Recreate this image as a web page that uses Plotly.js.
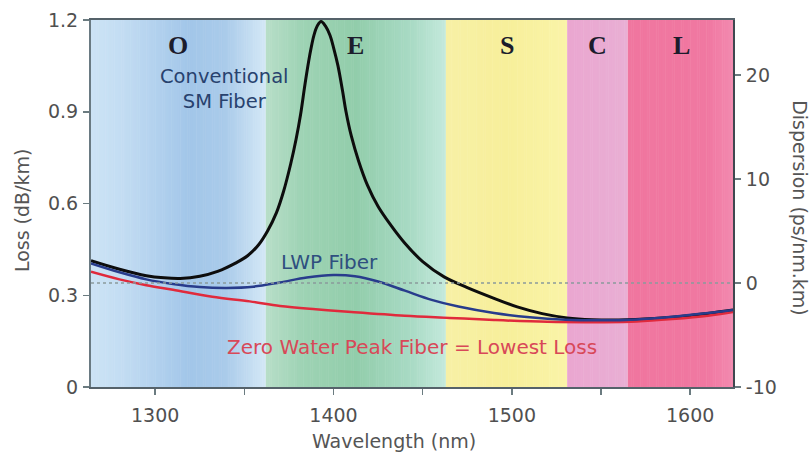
<!DOCTYPE html>
<html>
<head>
<meta charset="utf-8">
<script src="https://cdn.plot.ly/plotly-3.0.1.min.js"></script>
<style>html,body{margin:0;padding:0;background:#fff;}#chart{width:811px;height:459px;}</style>
</head>
<body>
<div id="chart"></div>
<script>
// ---- Bands ----
const bandNames = ['O', 'E', 'S', 'C', 'L'];
const bandStart = [1260, 1362, 1463, 1531, 1565];
const bandEnd   = [1362, 1463, 1531, 1565, 1625];

// Gradient colour stops per band: positions as fraction of the band, colours
const bandStopPos = [
  [0, 0.22, 0.58, 0.78, 1],
  [0, 0.2, 0.5, 0.8, 1],
  [0, 0.5, 1],
  [0, 1],
  [0, 0.75, 1]
];
const bandStopCol = [
  ['#cfe5f6', '#c2dcf2', '#a2c6e9', '#aacbea', '#d4e8f6'],
  ['#b8dec8', '#9ed3b4', '#92cdab', '#a8dac4', '#c4e9dc'],
  ['#f7f0a6', '#f7ef9a', '#faf4a8'],
  ['#eaa6d0', '#e9afd4'],
  ['#f0769f', '#f078a1', '#f38bb0']
];

// ---- Loss curves (dB/km) ----
const wlConv = [1264, 1280, 1295, 1305, 1314, 1325, 1335, 1345, 1352, 1358, 1363, 1368, 1372, 1376, 1379, 1381.5, 1384, 1386.5, 1389, 1391, 1393, 1395.5, 1398, 1400, 1402.5, 1405, 1407, 1410, 1414, 1419, 1425, 1432, 1440, 1450, 1462, 1475, 1490, 1503, 1517, 1531, 1545, 1560, 1580, 1600, 1624];
const lossConv = [0.413, 0.385, 0.364, 0.357, 0.355, 0.362, 0.378, 0.405, 0.43, 0.465, 0.51, 0.57, 0.64, 0.73, 0.81, 0.89, 0.99, 1.08, 1.15, 1.182, 1.195, 1.18, 1.15, 1.11, 1.05, 0.97, 0.90, 0.82, 0.74, 0.66, 0.59, 0.53, 0.47, 0.41, 0.36, 0.325, 0.29, 0.262, 0.24, 0.226, 0.22, 0.219, 0.224, 0.234, 0.252];

const wlLWP = [1264, 1280, 1295, 1310, 1325, 1340, 1355, 1370, 1385, 1400, 1412, 1425, 1440, 1455, 1470, 1490, 1510, 1530, 1550, 1570, 1590, 1610, 1624];
const lossLWP = [0.404, 0.375, 0.352, 0.337, 0.327, 0.324, 0.328, 0.342, 0.358, 0.366, 0.362, 0.345, 0.315, 0.285, 0.263, 0.242, 0.228, 0.220, 0.218, 0.221, 0.230, 0.242, 0.252];

const wlZWP = [1264, 1280, 1295, 1310, 1332, 1353, 1370, 1390, 1410, 1440, 1465, 1490, 1520, 1550, 1570, 1590, 1610, 1624];
const lossZWP = [0.377, 0.352, 0.333, 0.318, 0.295, 0.28, 0.265, 0.254, 0.245, 0.233, 0.226, 0.219, 0.213, 0.212, 0.214, 0.222, 0.233, 0.245];

// Zero-dispersion reference (ps/nm.km)
const zeroDispWl = [1264, 1624];
const zeroDisp = [0, 0];

// ---- Axis ticks ----
const xTickVals = [1300, 1350, 1400, 1450, 1500, 1550, 1600];
const xTickText = ['1300', '', '1400', '', '1500', '', '1600'];
const lossTicks = [0, 0.3, 0.6, 0.9, 1.2];
const lossTickText = ['0', '0.3', '0.6', '0.9', '1.2'];
const dispTicks = [-10, 0, 10, 20];
const dispTickText = ['-10', '0', '10', '20'];

// ---- Helpers ----
function hexToRgb(h) {
  const n = parseInt(h.slice(1), 16);
  return [(n >> 16) & 255, (n >> 8) & 255, n & 255];
}
function interpColor(pos, cols, f) {
  for (let i = 0; i < pos.length - 1; i++) {
    if (f >= pos[i] && f <= pos[i + 1]) {
      const t = (f - pos[i]) / (pos[i + 1] - pos[i] || 1);
      const a = hexToRgb(cols[i]), b = hexToRgb(cols[i + 1]);
      const c = a.map((v, k) => Math.round(v + (b[k] - v) * t));
      return 'rgb(' + c.join(',') + ')';
    }
  }
  return cols[cols.length - 1];
}

const shapes = [];
const step = 1;
for (let b = 0; b < bandNames.length; b++) {
  const s = bandStart[b], e = bandEnd[b];
  for (let x = s; x < e; x += step) {
    const f = (x + step / 2 - s) / (e - s);
    shapes.push({
      type: 'rect', xref: 'x', yref: 'paper',
      x0: x, x1: Math.min(x + step + 0.3, e), y0: 0, y1: 1,
      fillcolor: interpColor(bandStopPos[b], bandStopCol[b], f),
      line: {width: 0}, layer: 'below'
    });
  }
}

const serifFont = {family: 'Liberation Serif, Times New Roman, serif', size: 26, color: '#1c1c2c'};
const annotations = bandNames.map((n, i) => ({
  x: (Math.max(bandStart[i], 1264) + bandEnd[i]) / 2, y: 1.118, xref: 'x', yref: 'y',
  text: '<b>' + n + '</b>', showarrow: false, font: serifFont,
  xanchor: 'center', yanchor: 'middle'
}));

const sansFam = 'DejaVu Sans, Arial, sans-serif';
annotations.push(
  {x: 1339, y: 0.975, xref: 'x', yref: 'y', text: 'Conventional<br>SM Fiber', showarrow: false,
   font: {family: sansFam, size: 19.5, color: '#28426e'}, align: 'center', xanchor: 'center', yanchor: 'middle'},
  {x: 1398, y: 0.409, xref: 'x', yref: 'y', text: 'LWP Fiber', showarrow: false,
   font: {family: sansFam, size: 20, color: '#2f4f7f'}, xanchor: 'center', yanchor: 'middle'},
  {x: 1444, y: 0.131, xref: 'x', yref: 'y', text: 'Zero Water Peak Fiber = Lowest Loss', showarrow: false,
   font: {family: sansFam, size: 20, color: '#d84858'}, xanchor: 'center', yanchor: 'middle'},
  {x: 0.472, y: -0.147, xref: 'paper', yref: 'paper', text: 'Wavelength (nm)', showarrow: false,
   font: {family: sansFam, size: 19, color: '#555'}, xanchor: 'center', yanchor: 'middle'},
  {x: -0.1075, y: 0.482, xref: 'paper', yref: 'paper', text: 'Loss (dB/km)', showarrow: false, textangle: -90,
   font: {family: sansFam, size: 19, color: '#555'}, xanchor: 'center', yanchor: 'middle'},
  {x: 1.104, y: 0.488, xref: 'paper', yref: 'paper', text: 'Dispersion (ps/nm.km)', showarrow: false, textangle: 90,
   font: {family: sansFam, size: 19, color: '#555'}, xanchor: 'center', yanchor: 'middle'}
);

const traces = [
  {x: zeroDispWl, y: zeroDisp, yaxis: 'y2', mode: 'lines', line: {color: '#8a9a9c', width: 1.5, dash: 'dot'}, hoverinfo: 'skip'},
  {x: wlConv, y: lossConv, mode: 'lines', line: {color: '#0d0d0d', width: 3, shape: 'spline', smoothing: 1}, name: 'Conventional SM Fiber'},
  {x: wlZWP, y: lossZWP, mode: 'lines', line: {color: '#e02a3c', width: 2.5, shape: 'spline', smoothing: 1}, name: 'Zero Water Peak Fiber'},
  {x: wlLWP, y: lossLWP, mode: 'lines', line: {color: '#283c8c', width: 2.5, shape: 'spline', smoothing: 1}, name: 'LWP Fiber'}
];

const tickFont = {family: sansFam, size: 19, color: '#505050'};
const layout = {
  width: 811, height: 459,
  margin: {l: 91, r: 78, t: 20, b: 72, pad: 0},
  paper_bgcolor: '#ffffff', plot_bgcolor: '#ffffff',
  showlegend: false,
  xaxis: {
    range: [1264, 1624], tickvals: xTickVals, ticktext: xTickText,
    ticks: 'outside', ticklen: 6, tickwidth: 1.5, tickcolor: '#6b7b80',
    showline: true, linecolor: '#55626a', linewidth: 2, mirror: true,
    showgrid: false, zeroline: false, tickfont: tickFont, ticklabelstandoff: 4
  },
  yaxis: {
    range: [0, 1.2], tickvals: lossTicks, ticktext: lossTickText,
    ticks: 'outside', ticklen: 6, tickwidth: 1.5, tickcolor: '#6b7b80',
    showline: true, linecolor: '#6a7a82', linewidth: 2,
    showgrid: false, zeroline: false, tickfont: tickFont, ticklabelstandoff: 1
  },
  yaxis2: {
    overlaying: 'y', side: 'right',
    range: [-10, 25.29], tickvals: dispTicks, ticktext: dispTickText,
    ticks: 'outside', ticklen: 6, tickwidth: 1.5, tickcolor: '#6b7b80',
    showline: true, linecolor: '#404850', linewidth: 2,
    showgrid: false, zeroline: false, tickfont: tickFont, ticklabelstandoff: 1
  },
  shapes: shapes,
  annotations: annotations
};

Plotly.newPlot('chart', traces, layout, {staticPlot: true, displayModeBar: false});
</script>
</body>
</html>
